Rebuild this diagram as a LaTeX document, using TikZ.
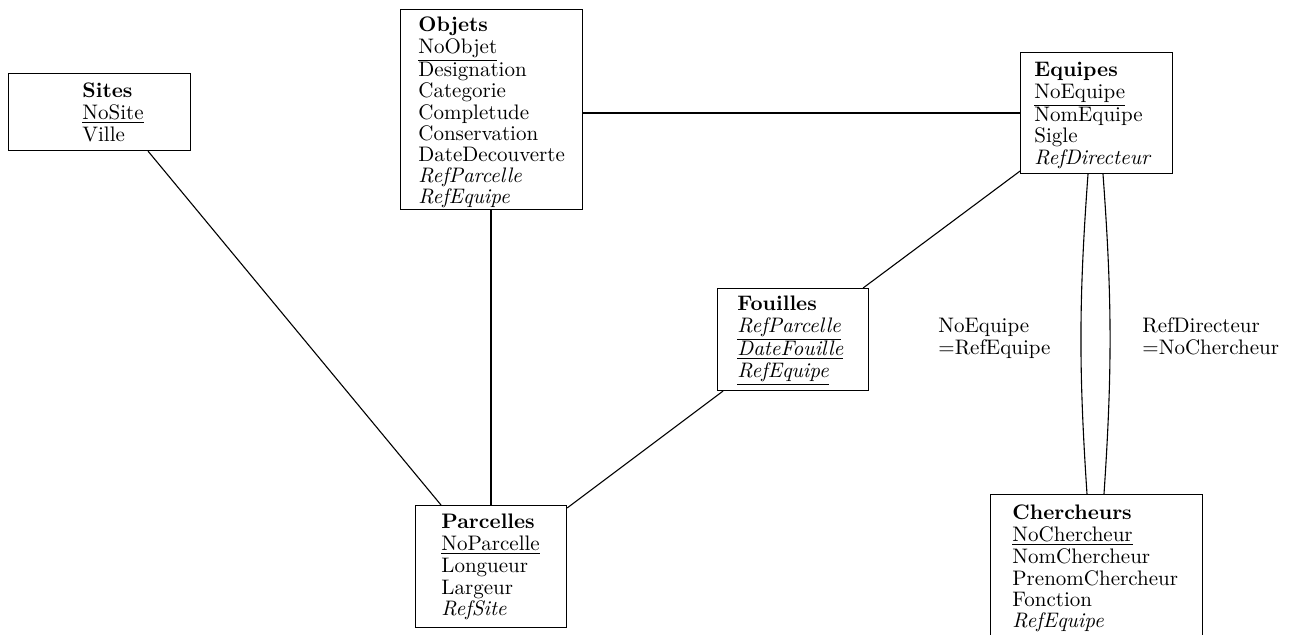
\documentclass[tikz,border=0pt]{standalone}
\usetikzlibrary{calc}
\begin{document}
\begin{tikzpicture}[x=0.5pt,y=-0.5pt,
  box/.style={draw,line width=0.55pt,inner sep=0pt,anchor=north west},
  txt/.style={inner sep=0pt,anchor=base west,font=\fontsize{10.5}{10.6}\selectfont},
  link/.style={line width=0.55pt}]
\clip (0,0) rectangle (1290,635);
% boxes
\node[box,minimum width=91pt,minimum height=38.5pt] (sites) at (8,73) {};
\node[box,minimum width=91pt,minimum height=100pt] (objets) at (400,9) {};
\node[box,minimum width=76pt,minimum height=60.5pt] (equipes) at (1020,52) {};
\node[box,minimum width=75.5pt,minimum height=51pt] (fouilles) at (717,288) {};
\node[box,minimum width=75.5pt,minimum height=61pt] (parcelles) at (415,505) {};
\node[box,minimum width=106pt,minimum height=80pt] (chercheurs) at (990,494) {};
% texts
\node[txt] (sitesT) at (82,98) {\begin{tabular}[t]{@{}l@{}}\textbf{Sites}\\ \underline{NoSite}\\[0.8pt] Ville\end{tabular}};
\node[txt] (objetsT) at (418,32) {\begin{tabular}[t]{@{}l@{}}\textbf{Objets}\\ \underline{NoObjet}\\[1.2pt] Designation\\ Categorie\\ Completude\\ Conservation\\ DateDecouverte\\ \textit{RefParcelle}\\ \textit{RefEquipe}\end{tabular}};
\node[txt] (equipesT) at (1034,77) {\begin{tabular}[t]{@{}l@{}}\textbf{Equipes}\\ \underline{NoEquipe}\\[1.2pt] NomEquipe\\ Sigle\\ \textit{RefDirecteur}\end{tabular}};
\node[txt] (fouillesT) at (737,311) {\begin{tabular}[t]{@{}l@{}}\textbf{Fouilles}\\ \underline{\textit{RefParcelle}}\\[0.6pt] \underline{\textit{DateFouille}}\\[0.4pt] \underline{\textit{RefEquipe}}\end{tabular}};
\node[txt] (parcellesT) at (441,529) {\begin{tabular}[t]{@{}l@{}}\textbf{Parcelles}\\ \underline{NoParcelle}\\[0.8pt] Longueur\\ Largeur\\ \textit{RefSite}\end{tabular}};
\node[txt] (chercheursT) at (1012,520) {\begin{tabular}[t]{@{}l@{}}\textbf{Chercheurs}\\ \underline{NoChercheur}\\[0.8pt] NomChercheur\\ PrenomChercheur\\ Fonction\\ \textit{RefEquipe}\end{tabular}};
% labels
\node[txt] (lblA) at (938,333) {\begin{tabular}[t]{@{}l@{}}NoEquipe\\ =RefEquipe\end{tabular}};
\node[txt] (lblB) at (1142,333) {\begin{tabular}[t]{@{}l@{}}RefDirecteur\\ =NoChercheur\end{tabular}};
% connectors
\draw[link] ($(sites.south west)+(140,0)$) -- ($(parcelles.north west)+(26,0)$);
\draw[link] ($(objets.south west)+(91,0)$) -- ($(parcelles.north west)+(76,0)$);
\draw[link] ($(objets.north east)+(0,104)$) -- ($(equipes.north west)+(0,61)$);
\draw[link] ($(equipes.south west)+(0,-3)$) -- ($(fouilles.north east)+(-6,0)$);
\draw[link] ($(fouilles.south west)+(6,0)$) -- ($(parcelles.north east)+(0,3)$);
\draw[link] ($(equipes.south west)+(68,0)$) to[bend right=4] ($(chercheurs.north west)+(97,0)$);
\draw[link] ($(equipes.south west)+(83,0)$) to[bend left=4] ($(chercheurs.north west)+(114,0)$);
\end{tikzpicture}
\end{document}
